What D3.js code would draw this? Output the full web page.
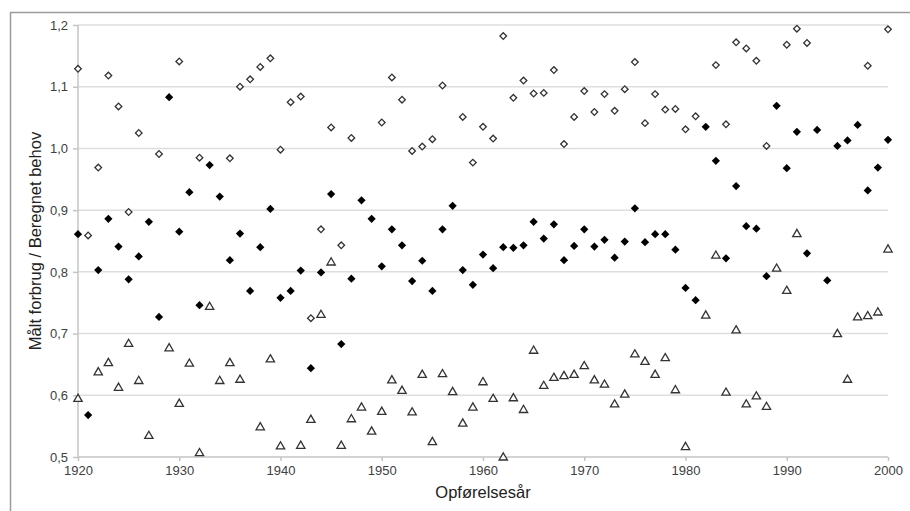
<!DOCTYPE html>
<html>
<head>
<meta charset="utf-8">
<script src="https://cdn.jsdelivr.net/npm/d3@7"></script>
<style>
  body { margin: 0; background: #fff; }
  svg { display: block; font-family: "Liberation Sans", Arial, sans-serif; }
</style>
</head>
<body>
<svg id="chart" width="910" height="511"></svg>
<script>
// measured / calculated ratio per year of construction
var filledYears = d3.range(1920, 2001)
var filledValues = [
  0.861, 0.568, 0.803, 0.886, 0.841, 0.788, 0.825, 0.881, 0.727, 1.083,
  0.865, 0.929, 0.746, 0.973, 0.922, 0.819, 0.862, 0.769, 0.840, 0.902,
  0.758, 0.769, 0.802, 0.644, 0.799, 0.926, 0.683, 0.789, 0.916, 0.886,
  0.809, 0.869, 0.843, 0.785, 0.818, 0.769, 0.869, 0.907, 0.803, 0.779,
  0.828, 0.806, 0.840, 0.839, 0.843, 0.881, 0.854, 0.877, 0.819, 0.842,
  0.869, 0.841, 0.852, 0.823, 0.849, 0.903, 0.848, 0.861, 0.861, 0.836,
  0.774, 0.754, 1.035, 0.980, 0.822, 0.939, 0.874, 0.870, 0.793, 1.069,
  0.968, 1.027, 0.830, 1.030, 0.786, 1.004, 1.013, 1.038, 0.932, 0.969,
  1.014
]

var openYears = [
  1920, 1921, 1922, 1923, 1924, 1925, 1926, 1928, 1930, 1932, 1935, 1936,
  1937, 1938, 1939, 1940, 1941, 1942, 1943, 1944, 1945, 1946, 1947, 1950,
  1951, 1952, 1953, 1954, 1955, 1956, 1958, 1959, 1960, 1961, 1962, 1963,
  1964, 1965, 1966, 1967, 1968, 1969, 1970, 1971, 1972, 1973, 1974, 1975,
  1976, 1977, 1978, 1979, 1980, 1981, 1983, 1984, 1985, 1986, 1987, 1988,
  1990, 1991, 1992, 1998, 2000
]
var openValues = [
  1.129, 0.859, 0.969, 1.118, 1.068, 0.897, 1.025, 0.991, 1.141, 0.985, 0.984, 1.100,
  1.112, 1.132, 1.146, 0.998, 1.075, 1.084, 0.725, 0.869, 1.034, 0.843, 1.017, 1.042,
  1.115, 1.079, 0.996, 1.003, 1.015, 1.102, 1.051, 0.977, 1.035, 1.016, 1.182, 1.082,
  1.110, 1.089, 1.090, 1.127, 1.007, 1.051, 1.093, 1.059, 1.088, 1.061, 1.096, 1.140,
  1.041, 1.088, 1.063, 1.064, 1.031, 1.052, 1.135, 1.039, 1.172, 1.162, 1.142, 1.004,
  1.168, 1.194, 1.171, 1.134, 1.193
]

var triYears = [
  1920, 1922, 1923, 1924, 1925, 1926, 1927, 1929, 1930, 1931, 1932, 1933,
  1934, 1935, 1936, 1938, 1939, 1940, 1942, 1943, 1944, 1945, 1946, 1947,
  1948, 1949, 1950, 1951, 1952, 1953, 1954, 1955, 1956, 1957, 1958, 1959,
  1960, 1961, 1962, 1963, 1964, 1965, 1966, 1967, 1968, 1969, 1970, 1971,
  1972, 1973, 1974, 1975, 1976, 1977, 1978, 1979, 1980, 1982, 1983, 1984,
  1985, 1986, 1987, 1988, 1989, 1990, 1991, 1995, 1996, 1997, 1998, 1999,
  2000
]
var triValues = [
  0.594, 0.637, 0.652, 0.612, 0.683, 0.623, 0.534, 0.676, 0.586, 0.651, 0.506, 0.743,
  0.623, 0.652, 0.625, 0.548, 0.658, 0.517, 0.518, 0.560, 0.730, 0.815, 0.518, 0.561,
  0.580, 0.541, 0.573, 0.624, 0.607, 0.572, 0.633, 0.524, 0.634, 0.605, 0.554, 0.580,
  0.621, 0.594, 0.499, 0.595, 0.576, 0.672, 0.615, 0.628, 0.631, 0.633, 0.647, 0.624,
  0.617, 0.585, 0.601, 0.666, 0.654, 0.633, 0.660, 0.608, 0.516, 0.729, 0.826, 0.604,
  0.705, 0.585, 0.598, 0.581, 0.805, 0.769, 0.861, 0.699, 0.625, 0.726, 0.728, 0.734,
  0.836
]

var xTicks = [1920, 1930, 1940, 1950, 1960, 1970, 1980, 1990, 2000]
var yTicks = [0.5, 0.6, 0.7, 0.8, 0.9, 1.0, 1.1, 1.2]

var svg = d3.select('#chart')
var margin = { left: 78, right: 22, top: 25, bottom: 54 }
var width = 910, height = 511

var x = d3.scaleLinear().domain([1920, 2000]).range([margin.left, width - margin.right])
var y = d3.scaleLinear().domain([0.5, 1.2]).range([height - margin.bottom, margin.top])

var fmt = function (d) { return d3.format('.1f')(d).replace('.', ',') }

// outer frame
svg.append('path')
  .attr('d', 'M10.5,' + height + 'V12.5H' + width)
  .attr('fill', 'none')
  .attr('stroke', '#9a9a9a')
  .attr('stroke-width', 1.5)

// gridlines
svg.append('g')
  .selectAll('line')
  .data(yTicks)
  .enter().append('line')
    .attr('x1', x(1920))
    .attr('x2', x(2000))
    .attr('y1', function (d) { return y(d) })
    .attr('y2', function (d) { return y(d) })
    .attr('stroke', function (d) { return d === 0.5 ? '#c4c4c4' : '#dedede' })
    .attr('stroke-width', 1.5)

svg.append('line')
  .attr('x1', x(1920)).attr('x2', x(1920))
  .attr('y1', y(1.2)).attr('y2', y(0.5))
  .attr('stroke', '#c4c4c4')
  .attr('stroke-width', 1.5)

var yAxis = d3.axisLeft(y).tickValues(yTicks).tickFormat(fmt).tickSize(5).tickPadding(5)
var xAxis = d3.axisBottom(x).tickValues(xTicks).tickFormat(d3.format('d')).tickSize(4).tickPadding(5)

svg.append('g')
  .attr('transform', 'translate(' + margin.left + ',0)')
  .call(yAxis)
  .call(function (g) { g.select('.domain').remove() })
  .call(function (g) { g.selectAll('.tick line').attr('stroke', '#c4c4c4').attr('stroke-width', 1.5) })
  .selectAll('text')
    .attr('font-size', 13)
    .attr('fill', '#404040')

svg.append('g')
  .attr('transform', 'translate(0,' + y(0.5) + ')')
  .call(xAxis)
  .call(function (g) { g.select('.domain').remove() })
  .call(function (g) { g.selectAll('.tick line').attr('stroke', '#c4c4c4').attr('stroke-width', 1.5) })
  .selectAll('text')
    .attr('font-size', 13)
    .attr('fill', '#404040')

svg.selectAll('.tick text').attr('font-family', '"Liberation Sans", Arial, sans-serif')

// axis titles
svg.append('text')
  .attr('x', x(1960))
  .attr('y', 498)
  .attr('text-anchor', 'middle')
  .attr('font-size', 16.5)
  .attr('fill', '#222')
  .text('Opførelsesår')

svg.append('text')
  .attr('transform', 'translate(41,' + 241 + ') rotate(-90)')
  .attr('text-anchor', 'middle')
  .attr('font-size', 16.5)
  .attr('fill', '#222')
  .text('Målt forbrug / Beregnet behov')

// markers
var diamond = d3.symbol().type(d3.symbolSquare)
var triangle = d3.symbol().type(d3.symbolTriangle).size(30)

function pairs (years, values) {
  return years.map(function (yr, i) { return [yr, values[i]] })
}

var plot = svg.append('g')

plot.selectAll('.open')
  .data(pairs(openYears, openValues))
  .enter().append('path')
    .attr('class', 'open')
    .attr('d', diamond.size(22))
    .attr('transform', function (d) { return 'translate(' + x(d[0]) + ',' + y(d[1]) + ') rotate(45)' })
    .attr('fill', '#fff')
    .attr('stroke', '#333')
    .attr('stroke-width', 1.3)

plot.selectAll('.filled')
  .data(pairs(filledYears, filledValues))
  .enter().append('path')
    .attr('class', 'filled')
    .attr('d', diamond.size(34))
    .attr('transform', function (d) { return 'translate(' + x(d[0]) + ',' + y(d[1]) + ') rotate(45)' })
    .attr('fill', '#000')

plot.selectAll('.tri')
  .data(pairs(triYears, triValues))
  .enter().append('path')
    .attr('class', 'tri')
    .attr('d', triangle)
    .attr('transform', function (d) { return 'translate(' + x(d[0]) + ',' + y(d[1]) + ')' })
    .attr('fill', '#fff')
    .attr('stroke', '#333')
    .attr('stroke-width', 1.3)
</script>
</body>
</html>
